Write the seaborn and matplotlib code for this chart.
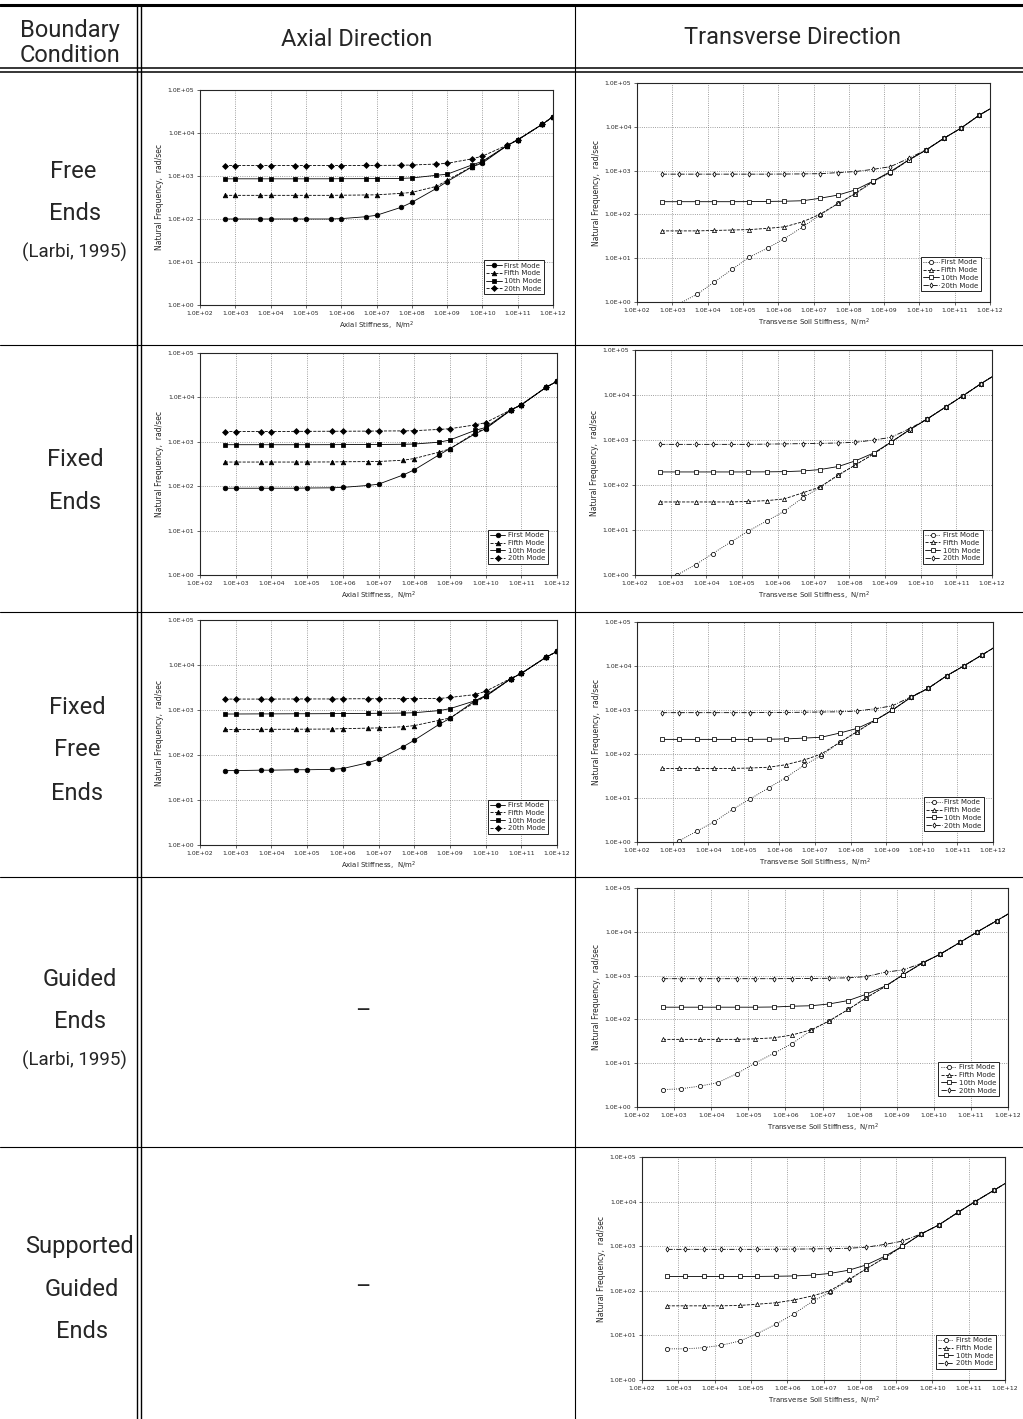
#
# Natural frequency vs soil stiffness - boundary condition table
#

import matplotlib
matplotlib.use('Agg')
import matplotlib.pyplot as plt
import seaborn as sns
from matplotlib import font_manager
from matplotlib.lines import Line2D
from matplotlib.ticker import FixedLocator, FuncFormatter, NullLocator

#%%
# Data

modes = ['First Mode', 'Fifth Mode', '10th Mode', '20th Mode']

axial_x = [5e2, 1e3, 5e3, 1e4, 5e4, 1e5, 5e5, 1e6, 5e6, 1e7,
           5e7, 1e8, 5e8, 1e9, 5e9, 1e10, 5e10, 1e11, 5e11, 1e12]

trans_x = [5e2, 1.5e3, 5e3, 1.5e4, 5e4, 1.5e5, 5e5, 1.5e6, 5e6, 1.5e7,
           5e7, 1.5e8, 5e8, 1.5e9, 5e9, 1.5e10, 5e10, 1.5e11, 5e11, 1.5e12]

# Free ends, axial
free_ax_first = [100, 100, 100, 100, 100, 100, 100, 102, 113, 122, 187, 244, 515, 740, 1620, 2000, 5100, 6900, 16000, 24000]
free_ax_fifth = [355, 355, 355, 355, 355, 355, 355, 357, 362, 365, 395, 415, 575, 790, 1650, 2100, 5100, 6900, 16000, 24000]
free_ax_10th = [860, 860, 860, 860, 860, 860, 862, 865, 868, 870, 880, 900, 1040, 1100, 1800, 2200, 5100, 6900, 16000, 24000]
free_ax_20th = [1750, 1750, 1750, 1750, 1750, 1750, 1750, 1750, 1760, 1760, 1780, 1800, 1900, 1970, 2500, 2900, 5200, 7000, 16000, 24000]

# Fixed ends, axial
fixed_ax_first = [90, 90, 90, 90, 90, 91, 92, 94, 104, 111, 180, 233, 510, 700, 1500, 1970, 5100, 6800, 17000, 23000]
fixed_ax_fifth = [350, 350, 350, 350, 350, 350, 352, 355, 358, 360, 385, 420, 585, 695, 1580, 2000, 5100, 6800, 17000, 23000]
fixed_ax_10th = [860, 860, 860, 860, 860, 860, 862, 865, 868, 870, 880, 890, 980, 1100, 1800, 2100, 5200, 6800, 17000, 23000]
fixed_ax_20th = [1700, 1700, 1700, 1700, 1720, 1720, 1730, 1730, 1740, 1750, 1760, 1780, 1900, 1970, 2400, 2700, 5200, 6900, 17000, 23000]

# Fixed-free ends, axial
ffree_ax_first = [45, 45, 46, 46, 47, 47, 48, 50, 67, 80, 154, 213, 480, 650, 1600, 2100, 4900, 6500, 15000, 20000]
ffree_ax_fifth = [370, 370, 372, 372, 374, 375, 378, 385, 395, 400, 425, 450, 590, 665, 1480, 2000, 4900, 6500, 15000, 20000]
ffree_ax_10th = [815, 815, 820, 820, 825, 825, 830, 835, 840, 845, 855, 870, 970, 1070, 1600, 2000, 4900, 6500, 15000, 20000]
ffree_ax_20th = [1750, 1750, 1750, 1750, 1760, 1760, 1760, 1770, 1780, 1780, 1790, 1800, 1800, 1900, 2200, 2600, 5000, 6500, 15000, 20000]

# Free ends, transverse
free_tr_first = [0.5, 0.9, 1.5, 2.8, 5.6, 10.5, 17, 28, 52, 96, 178, 290, 560, 900, 1750, 2900, 5500, 9300, 18500, 31000]
free_tr_fifth = [42, 42, 42, 43, 44, 45, 48, 52, 68, 100, 178, 300, 580, 910, 1750, 2900, 5500, 9300, 18500, 31000]
free_tr_10th = [195, 195, 195, 195, 195, 196, 198, 200, 205, 233, 277, 360, 580, 950, 1750, 2900, 5500, 9300, 18500, 31000]
free_tr_20th = [830, 830, 830, 830, 830, 830, 830, 835, 840, 850, 900, 950, 1070, 1230, 1900, 2960, 5500, 9300, 18500, 31000]

# Fixed ends, transverse
fixed_tr_first = [0.55, 1.0, 1.7, 3.0, 5.5, 9.5, 16, 26, 52, 88, 165, 280, 500, 900, 1700, 2900, 5400, 9500, 18000, 31000]
fixed_tr_fifth = [42, 42, 42, 42, 42, 43, 45, 49, 67, 90, 168, 280, 500, 900, 1700, 2900, 5400, 9500, 18000, 31000]
fixed_tr_10th = [195, 195, 195, 195, 195, 195, 196, 198, 205, 220, 258, 345, 520, 900, 1700, 2900, 5400, 9500, 18000, 31000]
fixed_tr_20th = [800, 800, 800, 800, 800, 800, 810, 820, 830, 840, 860, 890, 1000, 1150, 1800, 2900, 5400, 9500, 18000, 31000]

# Fixed-free ends, transverse
ffree_tr_first = [0.6, 1.05, 1.8, 2.9, 5.6, 9.5, 17, 29, 56, 92, 185, 320, 590, 1000, 1950, 3100, 6000, 10000, 18000, 31000]
ffree_tr_fifth = [47, 47, 47, 47, 47, 48, 50, 57, 73, 100, 185, 320, 590, 1000, 1950, 3100, 6000, 10000, 18000, 31000]
ffree_tr_10th = [215, 215, 215, 215, 215, 215, 217, 220, 230, 240, 300, 380, 590, 1000, 1950, 3100, 6000, 10000, 18000, 31000]
ffree_tr_20th = [870, 870, 870, 870, 870, 870, 875, 880, 890, 900, 910, 950, 1070, 1250, 2000, 3100, 6000, 10000, 18000, 31000]

# Guided ends, transverse
guided_tr_first = [2.5, 2.6, 3.0, 3.6, 5.8, 10, 17, 28, 56, 92, 170, 310, 570, 1050, 1950, 3100, 5700, 10000, 18000, 31000]
guided_tr_fifth = [35, 35, 35, 35, 35, 36, 38, 44, 58, 92, 170, 310, 570, 1050, 1950, 3100, 5700, 10000, 18000, 31000]
guided_tr_10th = [190, 190, 190, 190, 190, 190, 192, 200, 205, 225, 270, 375, 580, 1050, 1950, 3100, 5700, 10000, 18000, 31000]
guided_tr_20th = [850, 850, 850, 850, 850, 850, 850, 855, 860, 870, 890, 950, 1200, 1350, 1950, 3100, 5700, 10000, 18000, 31000]

# Supported guided ends, transverse
supp_tr_first = [5.0, 5.0, 5.3, 6.0, 7.5, 11, 18, 30, 58, 92, 175, 310, 560, 1000, 1900, 3000, 5700, 10000, 18000, 31000]
supp_tr_fifth = [46, 46, 46, 46, 47, 50, 54, 62, 77, 100, 180, 310, 560, 1000, 1900, 3000, 5700, 10000, 18000, 31000]
supp_tr_10th = [210, 210, 210, 210, 210, 210, 212, 215, 225, 245, 290, 380, 600, 1000, 1900, 3000, 5700, 10000, 18000, 31000]
supp_tr_20th = [850, 850, 850, 850, 850, 850, 855, 860, 870, 880, 900, 950, 1100, 1300, 1900, 3000, 5700, 10000, 18000, 31000]

decades = [1e2, 1e3, 1e4, 1e5, 1e6, 1e7, 1e8, 1e9, 1e10, 1e11, 1e12]
freq_decades = [1e0, 1e1, 1e2, 1e3, 1e4, 1e5]

#%%
# Styles

sns.set_style('ticks')
plt.rcParams['font.family'] = ['DejaVu Sans']

names = {f.name for f in font_manager.fontManager.ttflist}
if 'Liberation Sans Narrow' in names:
    table_font, big, small = 'Liberation Sans Narrow', 21, 16.5
else:
    table_font, big, small = 'Roboto', 17, 13.5

# marker, line style, marker size
axial_style = {'First Mode': ('o', '-', 3.3), 'Fifth Mode': ('^', '--', 3.3),
               '10th Mode': ('s', '-', 3.3), '20th Mode': ('D', '--', 3.0)}
trans_style = {'First Mode': ('o', ':', 3.0), 'Fifth Mode': ('^', '--', 3.0),
               '10th Mode': ('s', '-', 3.0), '20th Mode': ('d', '-.', 2.6)}

W, H = 1023, 1419
fig = plt.figure(figsize=(W / 100, H / 100), dpi=100)


def rect(x0, y0, x1, y1):
    return [x0 / W, 1 - y1 / H, (x1 - x0) / W, (y1 - y0) / H]


def hline(y, x0, x1, lw):
    fig.add_artist(Line2D([x0 / W, x1 / W], [1 - y / H, 1 - y / H],
                          transform=fig.transFigure, color='k', lw=lw))


def vline(x, y0, y1, lw):
    fig.add_artist(Line2D([x / W, x / W], [1 - y0 / H, 1 - y1 / H],
                          transform=fig.transFigure, color='k', lw=lw))


def label(x, y, s, size):
    fig.text(x / W, 1 - y / H, s, ha='center', va='center',
             fontsize=size, family=table_font)


def panel(box, xs, series, styles, xlabel, filled):
    ax = fig.add_axes(rect(*box))
    ax.set_xscale('log')
    ax.set_yscale('log')
    for name, ys in zip(modes, series):
        mk, ls, ms = styles[name]
        sns.lineplot(x=xs, y=ys, ax=ax, color='k', marker=mk, linestyle=ls,
                     linewidth=0.6, markersize=ms,
                     markerfacecolor='k' if filled else 'white',
                     markeredgecolor='k', markeredgewidth=0.55,
                     label=name, errorbar=None, sort=False)
    ax.set_xlim(1e2, 1e12)
    ax.set_ylim(1, 1e5)
    ax.xaxis.set_major_locator(FixedLocator(decades))
    ax.yaxis.set_major_locator(FixedLocator(freq_decades))
    ax.xaxis.set_minor_locator(NullLocator())
    ax.yaxis.set_minor_locator(NullLocator())
    fmt = FuncFormatter(lambda v, p: f'{v:.1E}')
    ax.xaxis.set_major_formatter(fmt)
    ax.yaxis.set_major_formatter(fmt)
    ax.tick_params(labelsize=4.4, length=2, width=0.5, pad=2)
    ax.grid(True, which='major', ls=':', lw=0.6, color='0.5')
    for s in ax.spines.values():
        s.set_linewidth(0.8)
    ax.set_xlabel(xlabel, fontsize=5, labelpad=3)
    ax.set_ylabel('Natural Frequency,  rad/sec', fontsize=5.5, labelpad=3)
    leg = ax.legend(loc='lower right', bbox_to_anchor=(0.975, 0.05), fontsize=5,
                    frameon=True, fancybox=False, edgecolor='k', framealpha=1,
                    borderpad=0.35, labelspacing=0.25, handlelength=2.2,
                    handletextpad=0.4, borderaxespad=0)
    leg.get_frame().set_linewidth(0.6)
    return ax


ax_lab = 'Axial Stiffness,  N/m$^2$'
tr_lab = 'Transverse Soil Stiffness,  N/m$^2$'

#%%
# Charts

panel((200, 90, 553, 305), axial_x,
      [free_ax_first, free_ax_fifth, free_ax_10th, free_ax_20th], axial_style, ax_lab, True)
panel((637, 83, 990, 302), trans_x,
      [free_tr_first, free_tr_fifth, free_tr_10th, free_tr_20th], trans_style, tr_lab, False)

panel((200, 353, 557, 575), axial_x,
      [fixed_ax_first, fixed_ax_fifth, fixed_ax_10th, fixed_ax_20th], axial_style, ax_lab, True)
panel((635, 350, 992, 575), trans_x,
      [fixed_tr_first, fixed_tr_fifth, fixed_tr_10th, fixed_tr_20th], trans_style, tr_lab, False)

panel((200, 620, 557, 845), axial_x,
      [ffree_ax_first, ffree_ax_fifth, ffree_ax_10th, ffree_ax_20th], axial_style, ax_lab, True)
panel((637, 622, 993, 842), trans_x,
      [ffree_tr_first, ffree_tr_fifth, ffree_tr_10th, ffree_tr_20th], trans_style, tr_lab, False)

panel((637, 888, 1008, 1107), trans_x,
      [guided_tr_first, guided_tr_fifth, guided_tr_10th, guided_tr_20th], trans_style, tr_lab, False)

panel((642, 1157, 1005, 1380), trans_x,
      [supp_tr_first, supp_tr_fifth, supp_tr_10th, supp_tr_20th], trans_style, tr_lab, False)

#%%
# Table frame and text

hline(5, 0, W, 2.2)
hline(68, 0, W, 1.1)
hline(72, 0, W, 1.1)
for y in [345, 612, 877, 1147]:
    hline(y, 0, W, 0.8)
vline(137, 5, H, 1.0)
vline(141, 5, H, 1.0)
vline(575, 5, H, 0.8)

label(70, 31, 'Boundary', big)
label(70, 56, 'Condition', big)
label(357, 40, 'Axial Direction', big)
label(793, 38, 'Transverse Direction', big)

label(73, 172, 'Free', big)
label(75, 214, 'Ends', big)
label(74, 252, '(Larbi, 1995)', small)

label(75, 460, 'Fixed', big)
label(75, 503, 'Ends', big)

label(77, 707, 'Fixed', big)
label(77, 750, 'Free', big)
label(77, 793, 'Ends', big)

label(80, 980, 'Guided', big)
label(80, 1022, 'Ends', big)
label(74, 1060, '(Larbi, 1995)', small)

label(80, 1246, 'Supported', big)
label(82, 1290, 'Guided', big)
label(82, 1332, 'Ends', big)

label(363, 1012, '–', big)
label(363, 1288, '–', big)

fig.savefig('out.png', dpi=100)
